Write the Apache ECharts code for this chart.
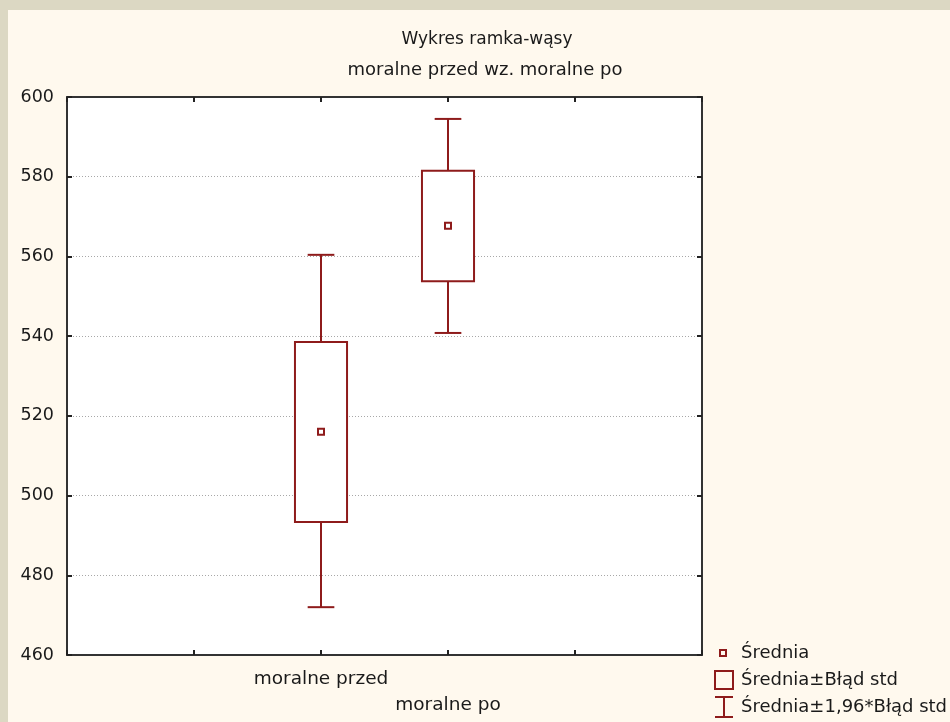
<!DOCTYPE html>
<html>
<head>
<meta charset="utf-8">
<script src="https://cdn.jsdelivr.net/npm/echarts@6/dist/echarts.min.js"></script>
<style>
  html, body { margin: 0; padding: 0; background: #dcd8c3; }
  body { width: 950px; height: 722px; position: relative; overflow: hidden; }
  #chart { position: absolute; left: 8px; top: 10px; width: 942px; height: 712px; }
</style>
</head>
<body>
<div id="chart"></div>
<script>
// Groups shown on the horizontal axis
const categories = ['moralne przed', 'moralne po'];
// Mean of each group
const means = [516.0, 567.7];
// Mean ± standard error (box edges)
const boxLow = [493.4, 553.8];
const boxHigh = [538.5, 581.5];
// Mean ± 1.96 * standard error (whisker ends)
const whiskerLow = [472.0, 540.8];
const whiskerHigh = [560.4, 594.5];
// Value axis ticks
const yTicks = [460, 480, 500, 520, 540, 560, 580, 600];

const seriesNames = ['Średnia', 'Średnia±Błąd std', 'Średnia±1,96*Błąd std'];
const RED = '#8e1b1b';
const INK = '#1a1a1a';
const FONT = 'DejaVu Sans';

// Groups sit in the two middle slots of a five-slot horizontal axis
const slotOf = i => i + 2;
const labelBySlot = {};
categories.forEach((c, i) => { labelBySlot[slotOf(i)] = i % 2 === 1 ? '\n' + c : c; });

const meanData = categories.map((c, i) => [slotOf(i), means[i]]);
const boxData = categories.map((c, i) => [slotOf(i), boxLow[i], boxHigh[i]]);
const whiskerData = categories.map((c, i) => [slotOf(i), whiskerLow[i], whiskerHigh[i]]);

const chart = echarts.init(document.getElementById('chart'), null, { renderer: 'canvas' });

const frameAxisLine = { show: true, onZero: false, lineStyle: { color: '#333', width: 2 } };
const frameTick = { show: true, inside: true, length: 5, lineStyle: { color: '#222', width: 2 } };

chart.setOption({
  backgroundColor: '#fff9ee',
  animation: false,
  title: [
    {
      text: 'Wykres ramka-wąsy', left: 479, top: 20, textAlign: 'center', padding: 0,
      textStyle: { fontFamily: FONT, fontSize: 17, fontWeight: 'normal', color: INK, lineHeight: 20 }
    },
    {
      text: 'moralne przed wz. moralne po', left: 477, top: 50, textAlign: 'center', padding: 0,
      textStyle: { fontFamily: FONT, fontSize: 18, fontWeight: 'normal', color: INK, lineHeight: 20 }
    }
  ],
  grid: { left: 59, top: 87, width: 635, height: 558, backgroundColor: '#ffffff', show: true, borderWidth: 0 },
  legend: {
    orient: 'vertical',
    left: 705,
    top: 631,
    height: 90,
    itemWidth: 22,
    itemHeight: 22,
    itemGap: 3,
    padding: 0,
    selectedMode: false,
    textStyle: { fontFamily: FONT, fontSize: 18, color: INK, lineHeight: 22 },
    data: [
      {
        name: seriesNames[0],
        icon: 'path://M0,0M22,22M6,8L12,8L12,14L6,14Z',
        itemStyle: { color: 'transparent', borderColor: RED, borderWidth: 2 }
      },
      {
        name: seriesNames[1],
        icon: 'path://M0,0M22,22M1,2L19,2L19,20L1,20Z',
        itemStyle: { color: 'transparent', borderColor: RED, borderWidth: 2 }
      },
      {
        name: seriesNames[2],
        icon: 'path://M0,0M22,22M1,1L19,1M10,1L10,21M1,21L19,21',
        itemStyle: { color: 'transparent', borderColor: RED, borderWidth: 2 }
      }
    ]
  },
  xAxis: [
    {
      type: 'value', position: 'bottom', min: 0, max: 5, interval: 1,
      axisLine: frameAxisLine, axisTick: frameTick, splitLine: { show: false },
      axisLabel: {
        margin: 11, fontFamily: FONT, fontSize: 18.5, color: INK, lineHeight: 26,
        verticalAlign: 'top',
        formatter: v => labelBySlot[v] || ''
      }
    },
    {
      type: 'value', position: 'top', min: 0, max: 5, interval: 1,
      axisLine: frameAxisLine, axisTick: frameTick, splitLine: { show: false },
      axisLabel: { show: false }
    }
  ],
  yAxis: [
    {
      type: 'value', position: 'left', min: yTicks[0], max: yTicks[yTicks.length - 1], interval: 20,
      axisLine: frameAxisLine, axisTick: frameTick,
      splitLine: { show: true, lineStyle: { color: '#a8a8a8', width: 1, type: [1, 2] } },
      axisLabel: { margin: 13, fontFamily: FONT, fontSize: 17.5, color: INK }
    },
    {
      type: 'value', position: 'right', min: yTicks[0], max: yTicks[yTicks.length - 1], interval: 20,
      axisLine: frameAxisLine, axisTick: frameTick, splitLine: { show: false },
      axisLabel: { show: false }
    }
  ],
  series: [
    {
      name: seriesNames[2],
      type: 'custom',
      z: 3,
      color: RED,
      data: whiskerData,
      renderItem: (params, api) => {
        const x = api.value(0);
        const lo = api.coord([x, api.value(1)]);
        const hi = api.coord([x, api.value(2)]);
        const cap = api.size([0.21, 0])[0] / 2;
        const st = { stroke: RED, lineWidth: 2 };
        return {
          type: 'group',
          children: [
            { type: 'line', shape: { x1: lo[0], y1: lo[1], x2: hi[0], y2: hi[1] }, style: st },
            { type: 'line', shape: { x1: lo[0] - cap, y1: lo[1], x2: lo[0] + cap, y2: lo[1] }, style: st },
            { type: 'line', shape: { x1: hi[0] - cap, y1: hi[1], x2: hi[0] + cap, y2: hi[1] }, style: st }
          ]
        };
      }
    },
    {
      name: seriesNames[1],
      type: 'custom',
      z: 4,
      color: RED,
      data: boxData,
      renderItem: (params, api) => {
        const x = api.value(0);
        const lo = api.coord([x, api.value(1)]);
        const hi = api.coord([x, api.value(2)]);
        const w = api.size([0.41, 0])[0];
        return {
          type: 'rect',
          shape: { x: lo[0] - w / 2, y: hi[1], width: w, height: lo[1] - hi[1] },
          style: { fill: '#ffffff', stroke: RED, lineWidth: 2 }
        };
      }
    },
    {
      name: seriesNames[0],
      type: 'custom',
      z: 5,
      color: RED,
      data: meanData,
      renderItem: (params, api) => {
        const p = api.coord([api.value(0), api.value(1)]);
        return {
          type: 'rect',
          shape: { x: p[0] - 3, y: p[1] - 3, width: 6, height: 6 },
          style: { fill: '#ffffff', stroke: RED, lineWidth: 2 }
        };
      }
    }
  ]
});
</script>
</body>
</html>
